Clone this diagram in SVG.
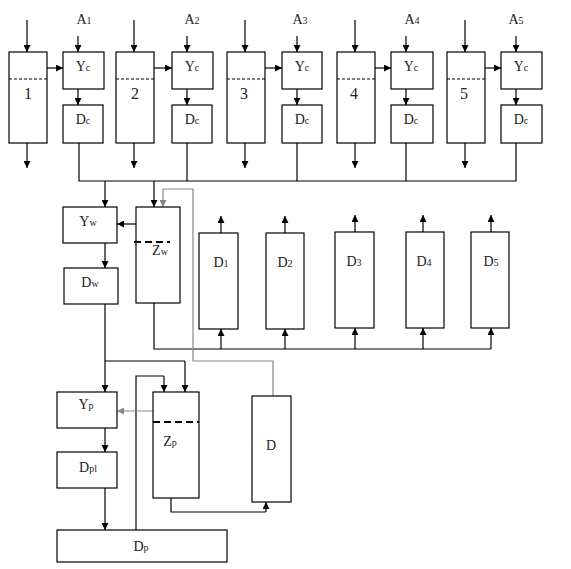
<svg xmlns="http://www.w3.org/2000/svg" width="571" height="569" viewBox="0 0 571 569">
<defs>
<marker id="ah" markerUnits="userSpaceOnUse" markerWidth="7" markerHeight="7" refX="7" refY="3.5" orient="auto"><path d="M0,0 L7,3.5 L0,7 z" fill="#000"/></marker>
<marker id="ahg" markerUnits="userSpaceOnUse" markerWidth="7" markerHeight="7" refX="7" refY="3.5" orient="auto"><path d="M0,0 L7,3.5 L0,7 z" fill="#888"/></marker>
<style>
rect{fill:#fff;stroke:#000;stroke-width:1.2}
.c{fill:none;stroke:#000;stroke-width:1.2}
.a{fill:none;stroke:#000;stroke-width:1.2;marker-end:url(#ah)}
.g{fill:none;stroke:#888;stroke-width:1.2}
.ga{fill:none;stroke:#888;stroke-width:1.2;marker-end:url(#ahg)}
.d{stroke:#000;stroke-width:1;stroke-dasharray:3,2}
.td{stroke:#000;stroke-width:2;stroke-dasharray:7,4}
text{font-family:"Liberation Serif","Times New Roman",serif;font-size:14px;fill:#222;text-anchor:middle}
.n{font-size:16px}
.s{font-size:10px}
</style>
</defs>
<g id="connectors">
<path class="a" d="M27,20V52"/><path class="a" d="M27,143V168"/><path class="a" d="M47,68H63"/><path class="a" d="M78,36V52"/><path class="a" d="M78,89V105"/>
<path class="a" d="M134,20V52"/><path class="a" d="M134,143V168"/><path class="a" d="M154,68H172"/><path class="a" d="M187,36V52"/><path class="a" d="M187,89V105"/>
<path class="a" d="M245,20V52"/><path class="a" d="M245,143V168"/><path class="a" d="M265,68H282"/><path class="a" d="M297,36V52"/><path class="a" d="M297,89V105"/>
<path class="a" d="M355,20V52"/><path class="a" d="M355,143V168"/><path class="a" d="M375,68H391"/><path class="a" d="M406,36V52"/><path class="a" d="M406,89V105"/>
<path class="a" d="M465,20V52"/><path class="a" d="M465,143V168"/><path class="a" d="M485,68H501"/><path class="a" d="M516,36V52"/><path class="a" d="M516,89V105"/>
<path class="c" d="M79,143V181H516V143"/><path class="c" d="M187,143V181"/><path class="c" d="M297,143V181"/><path class="c" d="M406,143V181"/>
<path class="a" d="M105,181V207"/><path class="a" d="M154,181V207"/>
<path class="a" d="M136,224H117"/>
<path class="a" d="M105,243V268"/>
<path class="c" d="M154,303V349H491"/>
<path class="a" d="M221,349V329"/><path class="a" d="M285,349V329"/><path class="a" d="M355,349V328"/><path class="a" d="M423,349V328"/><path class="a" d="M491,349V328"/>
<path class="a" d="M221,233V216"/><path class="a" d="M285,233V216"/><path class="a" d="M355,232V215"/><path class="a" d="M423,232V215"/><path class="a" d="M491,232V215"/>
<path class="g" d="M273,396V361H193V189H163"/><path class="ga" d="M163,189V207"/>
<path class="a" d="M105,304V392"/>
<path class="c" d="M105,361H185"/><path class="a" d="M185,361V392"/>
<path class="c" d="M136,530V376H164"/><path class="a" d="M164,376V392"/>
<path class="ga" d="M153,411H117"/>
<path class="a" d="M105,428V452"/>
<path class="a" d="M105,488V530"/>
<path class="c" d="M171,498V512H266"/><path class="a" d="M266,512V502"/>
</g>
<g id="col1">
<rect x="9" y="52" width="38" height="91"/><line class="d" x1="9" y1="79" x2="47" y2="79"/><text class="n" x="28" y="99">1</text>
<text x="84" y="24">A<tspan class="s">1</tspan></text>
<rect x="63" y="52" width="41" height="37"/><text x="83" y="71">Y<tspan class="s">c</tspan></text>
<rect x="63" y="105" width="40" height="38"/><text x="83" y="124">D<tspan class="s">c</tspan></text>
</g>
<g id="col2">
<rect x="116" y="52" width="38" height="91"/><line class="d" x1="116" y1="79" x2="154" y2="79"/><text class="n" x="135" y="99">2</text>
<text x="192" y="24">A<tspan class="s">2</tspan></text>
<rect x="172" y="52" width="41" height="37"/><text x="192" y="71">Y<tspan class="s">c</tspan></text>
<rect x="172" y="105" width="40" height="38"/><text x="192" y="124">D<tspan class="s">c</tspan></text>
</g>
<g id="col3">
<rect x="227" y="52" width="38" height="91"/><line class="d" x1="227" y1="79" x2="265" y2="79"/><text class="n" x="244" y="99">3</text>
<text x="300" y="24">A<tspan class="s">3</tspan></text>
<rect x="282" y="52" width="40" height="37"/><text x="302" y="71">Y<tspan class="s">c</tspan></text>
<rect x="282" y="105" width="40" height="38"/><text x="302" y="124">D<tspan class="s">c</tspan></text>
</g>
<g id="col4">
<rect x="337" y="52" width="38" height="91"/><line class="d" x1="337" y1="79" x2="375" y2="79"/><text class="n" x="354" y="99">4</text>
<text x="412" y="24">A<tspan class="s">4</tspan></text>
<rect x="391" y="52" width="42" height="37"/><text x="411" y="71">Y<tspan class="s">c</tspan></text>
<rect x="391" y="105" width="42" height="38"/><text x="411" y="124">D<tspan class="s">c</tspan></text>
</g>
<g id="col5">
<rect x="447" y="52" width="38" height="91"/><line class="d" x1="447" y1="79" x2="485" y2="79"/><text class="n" x="464" y="99">5</text>
<text x="516" y="24">A<tspan class="s">5</tspan></text>
<rect x="501" y="52" width="41" height="37"/><text x="521" y="71">Y<tspan class="s">c</tspan></text>
<rect x="501" y="105" width="41" height="38"/><text x="521" y="124">D<tspan class="s">c</tspan></text>
</g>
<g id="Yw"><rect x="63" y="207" width="54" height="36"/><text x="88" y="226">Y<tspan class="s">w</tspan></text></g>
<g id="Dw"><rect x="64" y="268" width="54" height="36"/><text x="90" y="287">D<tspan class="s">w</tspan></text></g>
<g id="Zw"><rect x="136" y="207" width="44" height="96"/><line class="td" x1="134" y1="242" x2="170" y2="242"/><text x="160" y="255">Z<tspan class="s">w</tspan></text></g>
<g id="D1"><rect x="199" y="233" width="39" height="96"/><text x="221" y="267">D<tspan class="s">1</tspan></text></g>
<g id="D2"><rect x="266" y="233" width="38" height="96"/><text x="285" y="267">D<tspan class="s">2</tspan></text></g>
<g id="D3"><rect x="335" y="232" width="39" height="96"/><text x="354" y="266">D<tspan class="s">3</tspan></text></g>
<g id="D4"><rect x="406" y="232" width="38" height="96"/><text x="424" y="266">D<tspan class="s">4</tspan></text></g>
<g id="D5"><rect x="471" y="232" width="38" height="96"/><text x="491" y="266">D<tspan class="s">5</tspan></text></g>
<g id="Yp"><rect x="57" y="392" width="60" height="36"/><text x="86" y="409">Y<tspan class="s">p</tspan></text></g>
<g id="Zp"><rect x="153" y="392" width="46" height="106"/><line class="td" x1="153" y1="422" x2="199" y2="422"/><text x="170" y="446">Z<tspan class="s">p</tspan></text></g>
<g id="Dpl"><rect x="57" y="452" width="60" height="36"/><text x="88" y="472">D<tspan class="s">pl</tspan></text></g>
<g id="D"><rect x="252" y="396" width="39" height="106"/><text x="271" y="450">D</text></g>
<g id="Dp"><rect x="57" y="530" width="170" height="32"/><text x="141" y="551">D<tspan class="s">p</tspan></text></g>
</svg>
